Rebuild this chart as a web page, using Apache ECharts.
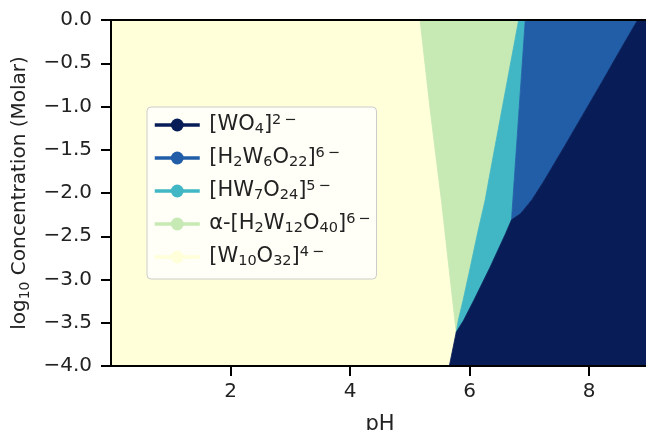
<!DOCTYPE html>
<html>
<head>
<meta charset="utf-8">
<script src="https://cdn.jsdelivr.net/npm/echarts@6/dist/echarts.min.js"></script>
<style>
  html, body { margin: 0; padding: 0; background: #fff; }
  #chart { width: 646px; height: 430px; }
</style>
</head>
<body>
<div id="chart"></div>
<script>
// species shown in legend (order as in legend)
var speciesNames = ['WO4', 'H2W6O22', 'HW7O24', 'a-H2W12O40', 'W10O32'];
var speciesColors = ['#081d58', '#225ea8', '#41b6c4', '#c7e9b4', '#ffffd9'];
// legend text with sub/superscripts (rich text)
var legendLabels = [
  '{g| }{n|[WO}{b|4}{n|]}{t|2\u2009\u2212}',
  '{g| }{n|[H}{b|2}{n|W}{b|6}{n|O}{b|22}{n|]}{t|6\u2009\u2212}',
  '{g| }{n|[HW}{b|7}{n|O}{b|24}{n|]}{t|5\u2009\u2212}',
  '{g| }{n|\u03b1-[H}{b|2}{n|W}{b|12}{n|O}{b|40}{n|]}{t|6\u2009\u2212}',
  '{g| }{n|[W}{b|10}{n|O}{b|32}{n|]}{t|4\u2009\u2212}'
];

// axis ranges
var phMin = 0, phMax = 9;
var logMin = -4, logMax = 0;
var xTicks = [2, 4, 6, 8];

// predominance boundaries, [pH, log10 C]
var bYG = [[5.17, 0], [5.34, -1.04], [5.53, -2.10], [5.775, -3.61]];           // W10O32 | alpha-H2W12O40
var bYN = [[5.775, -3.61], [5.66, -4]];                                          // W10O32 | WO4
var bGT = [[6.82, 0], [6.32, -1.85], [6.26, -2.08], [6.13, -2.47], [6.01, -2.86],
           [5.89, -3.24], [5.81, -3.47], [5.775, -3.61]];                         // alpha | HW7O24
var bTN = [[5.775, -3.61], [5.90, -3.47], [6.07, -3.24], [6.34, -2.86], [6.60, -2.47],
           [6.70, -2.31]];                                                        // HW7O24 | WO4
var bTB = [[6.93, 0], [6.82, -1.10], [6.70, -2.31]];                              // HW7O24 | H2W6O22
var bBN = [[6.70, -2.31], [6.85, -2.24], [7.04, -2.08], [7.23, -1.875], [7.57, -1.48],
           [7.89, -1.10], [8.21, -0.72], [8.54, -0.32], [8.81, 0]];              // H2W6O22 | WO4

function rev(a) { return a.slice().reverse(); }

// region polygons, same order as speciesNames
var regionPolys = [
  bYN.concat([[phMax, logMin], [phMax, logMax]], rev(bBN), rev(bTN)),
  bTB.concat(bBN),
  bGT.concat(bTN, rev(bTB)),
  bYG.concat(rev(bGT)),
  [[phMin, logMax]].concat(bYG, bYN, [[phMin, logMin]])
];
// paint order: yellow first, then the rest
var paintOrder = [4, 3, 2, 1, 0];

var font = 'DejaVu Sans';
var chart = echarts.init(document.getElementById('chart'));

var series = [{
  name: 'regions',
  type: 'custom',
  silent: true,
  clip: true,
  z: -1,   // keep under the axis lines
  data: paintOrder.map(function (i) { return [i]; }),
  renderItem: function (params, api) {
    var idx = paintOrder[params.dataIndex];
    var pts = regionPolys[idx].map(function (p) { return api.coord(p); });
    return {
      type: 'polygon',
      shape: { points: pts },
      style: { fill: speciesColors[idx], stroke: speciesColors[idx], lineWidth: 0.8 }
    };
  }
}];

// empty line series only for the legend handles
speciesNames.forEach(function (n, i) {
  series.push({
    name: n,
    type: 'line',
    data: [],
    symbol: 'circle',
    color: speciesColors[i],
    itemStyle: { color: speciesColors[i] },
    lineStyle: { color: speciesColors[i], width: 3.5 }
  });
});

var tickStyle = { color: '#000', width: 2 };

var option = {
  animation: false,
  grid: { left: 111, right: -3, top: 20, bottom: 64, outerBoundsMode: 'none', containLabel: false },
  legend: {
    orient: 'vertical',
    left: 147,
    top: 107,
    data: speciesNames,
    itemWidth: 45,
    itemHeight: 16,
    itemGap: 9,
    padding: [6, 6, 10, 6],
    backgroundColor: 'rgba(255,255,255,0.8)',
    borderColor: '#cccccc',
    borderWidth: 1,
    borderRadius: 4,
    selectedMode: false,
    lineStyle: { width: 3.5 },
    formatter: function (name) { return legendLabels[speciesNames.indexOf(name)]; },
    textStyle: {
      fontFamily: font,
      color: '#222',
      rich: {
        g: { fontSize: 14, fontFamily: font },
        n: { fontSize: 21, lineHeight: 24, fontFamily: font, color: '#222' },
        b: { fontSize: 14.5, lineHeight: 14, verticalAlign: 'bottom', fontFamily: font, color: '#222' },
        t: { fontSize: 14.5, lineHeight: 14, verticalAlign: 'top', fontFamily: font, color: '#222' }
      }
    }
  },
  xAxis: [{
    type: 'value',
    min: phMin, max: phMax, interval: 2,
    name: 'pH',
    nameLocation: 'middle',
    nameGap: 48,
    nameTextStyle: { fontFamily: font, fontSize: 21, color: '#222' },
    axisLine: { show: true, onZero: false, lineStyle: tickStyle },
    axisTick: { show: true, inside: false, length: 10, customValues: xTicks, lineStyle: tickStyle },
    axisLabel: { customValues: xTicks, margin: 16, fontFamily: font, fontSize: 20, color: '#222' },
    splitLine: { show: false }
  }, {
    type: 'value',
    position: 'top',
    min: phMin, max: phMax,
    axisLine: { show: true, onZero: false, lineStyle: tickStyle },
    axisTick: { show: false },
    axisLabel: { show: false },
    splitLine: { show: false }
  }],
  yAxis: {
    type: 'value',
    min: logMin, max: logMax, interval: 0.5,
    name: '{a|log}{s|10}{a| Concentration (Molar)}',
    nameLocation: 'middle',
    nameGap: 72,
    nameTextStyle: {
      fontFamily: font,
      color: '#222',
      rich: {
        a: { fontSize: 20, lineHeight: 26, fontFamily: font, color: '#222' },
        s: { fontSize: 14, lineHeight: 15, verticalAlign: 'bottom', fontFamily: font, color: '#222' }
      }
    },
    axisLine: { show: true, onZero: false, lineStyle: tickStyle },
    axisTick: { show: true, inside: false, length: 10, lineStyle: tickStyle },
    axisLabel: {
      margin: 19,
      fontFamily: font,
      fontSize: 20,
      color: '#222',
      formatter: function (v) { return (v < 0 ? '\u2212' : '') + Math.abs(v).toFixed(1); }
    },
    splitLine: { show: false }
  },
  series: series
};

chart.setOption(option);
</script>
</body>
</html>
